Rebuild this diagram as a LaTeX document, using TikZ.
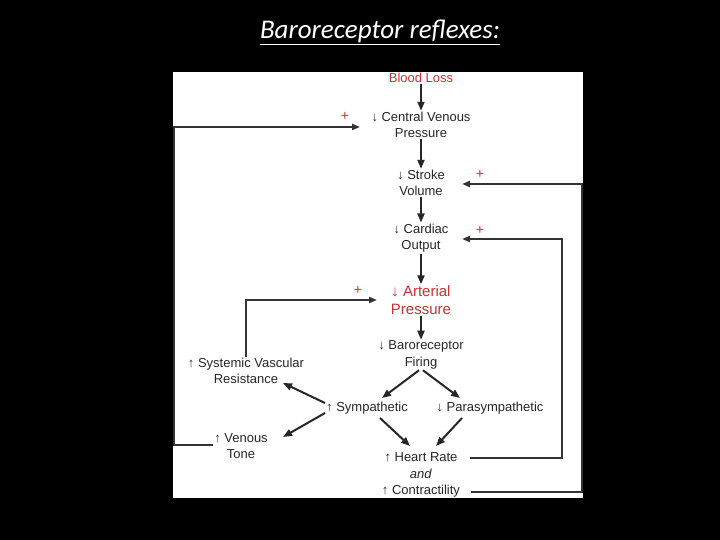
\documentclass[tikz,border=0pt]{standalone}
\usepackage{fontspec}
\setmainfont{Liberation Sans}
\newfontfamily\titlefont{Carlito}
\usetikzlibrary{arrows.meta}
\definecolor{rd}{RGB}{200,50,50}
\begin{document}
\begin{tikzpicture}[x=1pt,y=-1pt,
 t/.style={align=center,inner sep=1pt,font=\fontsize{13}{16.5}\selectfont,text=black!85},
 r/.style={t,text=rd},
 pl/.style={text=rd,font=\fontsize{14}{16}\selectfont,inner sep=0pt},
 ar/.style={draw=black!85,line width=2pt,-{Triangle[length=9pt,width=7pt]}},
 ln/.style={draw=black!80,line width=2pt,-{Triangle[length=8pt,width=6pt]}}]
\useasboundingbox (0,0) rectangle (720,540);
\fill[black] (0,0) rectangle (720,540);
\fill[white] (173,72) rectangle (583,498);
\node[text=white,font=\titlefont\itshape\fontsize{27}{30}\selectfont] (title) at (380,32) {\underline{Baroreceptor reflexes:}};
\node[r] (bl) at (421,78) {Blood Loss};
\node[t] (cvp) at (421,125) {↓ Central Venous\\Pressure};
\node[t] (sv) at (421,183) {↓ Stroke\\Volume};
\node[t] (co) at (421,238) {↓ Cardiac\\Output};
\node[r,font=\fontsize{15}{18}\selectfont] (ap) at (421,300) {↓ Arterial\\Pressure};
\node[t] (bf) at (421,355) {↓ Baroreceptor\\Firing};
\node[t] (sy) at (367,408) {↑ Sympathetic};
\node[t] (pa) at (490,408) {↓ Parasympathetic};
\node[t] (svr) at (246,371) {↑ Systemic Vascular\\Resistance};
\node[t] (vt) at (241,446) {↑ Venous\\Tone};
\node[t] (hr) at (421,475) {↑ Heart Rate\\\textit{and}\\↑ Contractility};
\node[pl] (p1) at (345,116) {+};
\node[pl] (p2) at (480,174) {+};
\node[pl] (p3) at (480,230) {+};
\node[pl] (p4) at (358,290) {+};
\coordinate (cvpin) at (360,127);
\coordinate (svin) at (462,184);
\coordinate (coin) at (462,239);
\coordinate (apin) at (377,300);
\coordinate (vtout) at (174,445);
\draw[ar] (bl.south) -- (cvp.north);
\draw[ar] (cvp.south) -- (sv.north);
\draw[ar] (sv.south) -- (co.north);
\draw[ar] (co.south) -- (ap.north);
\draw[ar] (ap.south) -- (bf.north);
\draw[ar] (bf.south) ++(-2,0) -- (382,398);
\draw[ar] (bf.south) ++(2,0) -- (460,398);
\draw[ar] (sy.west) ++(0,-5) -- (283,383);
\draw[ar] (sy.west) ++(0,5) -- (283,437);
\draw[ar] (380,418) -- (410,446);
\draw[ar] (462,418) -- (436,446);
\draw[ln] (vt.west |- vtout) -- (vtout) |- (cvpin);
\draw[ln] (svr.north) |- (apin);
\draw[ln] (470,458) -- (562,458) |- (coin);
\draw[ln] (471,492) -- (582,492) |- (svin);
\end{tikzpicture}
\end{document}
